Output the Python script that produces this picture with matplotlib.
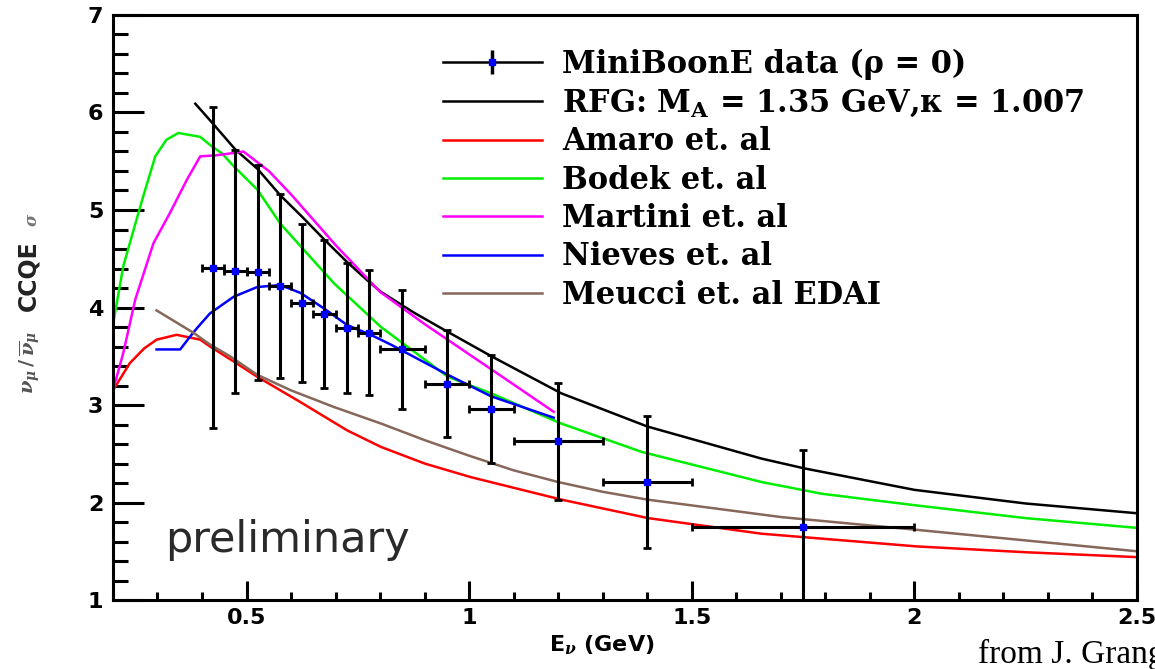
import matplotlib.pyplot as plt
from matplotlib.lines import Line2D
from matplotlib.ticker import MultipleLocator, FormatStrFormatter

plt.rcParams['mathtext.fontset'] = 'custom'
plt.rcParams['mathtext.rm'] = 'DejaVu Serif:bold'
plt.rcParams['mathtext.it'] = 'DejaVu Serif:bold:italic'
plt.rcParams['mathtext.bf'] = 'DejaVu Serif:bold'

# MiniBooNE nu / nubar CCQE ratio
e_nu = [0.425, 0.475, 0.525, 0.575, 0.625, 0.675, 0.725, 0.775, 0.85, 0.95, 1.05, 1.2, 1.4, 1.75]
e_err = [0.025, 0.025, 0.025, 0.025, 0.025, 0.025, 0.025, 0.025, 0.05, 0.05, 0.05, 0.1, 0.1, 0.25]
ratio = [4.41, 4.37, 4.36, 4.22, 4.05, 3.93, 3.79, 3.74, 3.57, 3.22, 2.96, 2.63, 2.21, 1.75]
ratio_err = [1.65, 1.25, 1.10, 0.94, 0.81, 0.76, 0.67, 0.64, 0.61, 0.55, 0.55, 0.60, 0.68, 0.79]

# RFG, M_A = 1.35 GeV
rfg_e = [0.385, 0.418, 0.475, 0.525, 0.576, 0.625, 0.674, 0.725, 0.771, 0.802, 0.875, 0.952, 1.05, 1.207,
         1.4, 1.657, 1.753, 2.0, 2.25, 2.5]
rfg_r = [6.09, 5.92, 5.62, 5.42, 5.15, 4.93, 4.70, 4.47, 4.28, 4.16, 3.95, 3.75, 3.50, 3.12,
         2.78, 2.45, 2.35, 2.13, 1.99, 1.89]

# Amaro et al
amaro_e = [0.2, 0.238, 0.27, 0.298, 0.343, 0.396, 0.418, 0.47, 0.524, 0.621, 0.726, 0.802, 0.9, 1.004,
           1.207, 1.402, 1.657, 2.005, 2.25, 2.5]
amaro_r = [3.15, 3.43, 3.58, 3.67, 3.72, 3.67, 3.60, 3.45, 3.29, 3.03, 2.74, 2.57, 2.40, 2.26,
           2.03, 1.84, 1.68, 1.55, 1.49, 1.44]

# Bodek et al
bodek_e = [0.2, 0.223, 0.246, 0.268, 0.295, 0.32, 0.347, 0.396, 0.42, 0.445, 0.471, 0.524, 0.576, 0.629,
           0.696, 0.802, 0.952, 1.049, 1.207, 1.387, 1.657, 1.792, 2.005, 2.25, 2.5]
bodek_r = [3.82, 4.42, 4.79, 5.14, 5.55, 5.72, 5.79, 5.75, 5.66, 5.58, 5.45, 5.21, 4.86, 4.59,
           4.25, 3.80, 3.29, 3.12, 2.81, 2.52, 2.21, 2.09, 1.97, 1.84, 1.74]

# Martini et al
martini_e = [0.2, 0.223, 0.25, 0.291, 0.328, 0.366, 0.396, 0.43, 0.448, 0.493, 0.55, 0.6, 0.65, 0.7,
             0.75, 0.8, 0.9, 1.0, 1.1, 1.19]
martini_r = [3.15, 3.53, 4.08, 4.66, 4.97, 5.31, 5.55, 5.56, 5.57, 5.60, 5.40, 5.16, 4.90, 4.64,
             4.40, 4.16, 3.83, 3.52, 3.21, 2.93]

# Nieves et al
nieves_e = [0.298, 0.351, 0.373, 0.389, 0.418, 0.471, 0.524, 0.576, 0.621, 0.674, 0.726, 0.779, 0.824,
            0.952, 1.049, 1.19]
nieves_r = [3.57, 3.57, 3.70, 3.79, 3.94, 4.11, 4.21, 4.23, 4.15, 3.99, 3.82, 3.72, 3.62,
            3.31, 3.09, 2.87]

# Meucci et al EDAI
meucci_e = [0.298, 0.381, 0.418, 0.463, 0.524, 0.6, 0.696, 0.802, 0.9, 1.0, 1.1, 1.2, 1.3, 1.4,
            1.702, 2.005, 2.5]
meucci_r = [3.97, 3.74, 3.62, 3.50, 3.31, 3.15, 2.98, 2.81, 2.64, 2.48, 2.33, 2.21, 2.11, 2.03,
            1.85, 1.72, 1.50]

fig = plt.figure(figsize=(11.55, 6.69), dpi=100)
ax = fig.add_axes([0.0978, 0.1031, 0.8866, 0.8745])

ax.errorbar(e_nu, ratio, xerr=e_err, yerr=ratio_err, fmt='s', color='blue', markersize=4,
            ecolor='black', elinewidth=2.2, capsize=3, capthick=2, zorder=5)
l_rfg, = ax.plot(rfg_e, rfg_r, color='black', lw=1.8)
l_amaro, = ax.plot(amaro_e, amaro_r, color='red', lw=1.8)
l_bodek, = ax.plot(bodek_e, bodek_r, color='#00ee00', lw=1.8)
l_martini, = ax.plot(martini_e, martini_r, color='magenta', lw=1.8)
l_nieves, = ax.plot(nieves_e, nieves_r, color='blue', lw=1.8)
l_meucci, = ax.plot(meucci_e, meucci_r, color='#86675a', lw=1.8)

ax.set_xlim(0.2, 2.5)
ax.set_ylim(1, 7)
ax.xaxis.set_major_locator(MultipleLocator(0.5))
ax.xaxis.set_minor_locator(MultipleLocator(0.1))
ax.yaxis.set_major_locator(MultipleLocator(1))
ax.yaxis.set_minor_locator(MultipleLocator(0.2))
ax.xaxis.set_major_formatter(FormatStrFormatter('%g'))
ax.tick_params(axis='both', which='both', direction='in', width=2.2)
ax.tick_params(axis='y', which='major', length=22, pad=7)
ax.tick_params(axis='y', which='minor', length=11)
ax.tick_params(axis='x', which='major', length=14, pad=6)
ax.tick_params(axis='x', which='minor', length=6)
for lab in ax.get_xticklabels() + ax.get_yticklabels():
    lab.set_family('DejaVu Sans')
    lab.set_fontweight('bold')
    lab.set_fontsize(16)
for sp in ax.spines.values():
    sp.set_linewidth(2.2)

# legend entry for the data: horizontal line, vertical error tick, blue point
data_handle = (Line2D([], [], color='black', lw=1.8),
               Line2D([], [], ls='none', marker='|', markersize=17, mew=2.5, color='black'),
               Line2D([], [], ls='none', marker='s', markersize=4, color='blue'))
labels = ['MiniBoonE data (ρ = 0)', r'RFG: M$_\mathrm{A}$ = 1.35 GeV,κ = 1.007', 'Amaro et. al',
          'Bodek et. al', 'Martini et. al', 'Nieves et. al', 'Meucci et. al EDAI']
ax.legend([data_handle, l_rfg, l_amaro, l_bodek, l_martini, l_nieves, l_meucci], labels,
          loc='upper left', bbox_to_anchor=(0.322, 0.942), frameon=False, numpoints=1,
          prop=dict(family='DejaVu Serif', weight='bold', size=22),
          handlelength=3.25, handletextpad=0.67, labelspacing=0.24, borderpad=0, borderaxespad=0)

ax.text(0.051, 0.082, 'preliminary', transform=ax.transAxes, fontsize=31, color='#2a2a2a',
        family='DejaVu Sans')

fig.text(0.521, 1 - 645 / 669, r'E$_\nu$ (GeV)', ha='center', va='center', fontsize=16,
         fontweight='bold', family='DejaVu Sans')
fig.text(30 / 1155, 1 - 362 / 669, r'$\nu_{\mu}\,/\,\overline{\nu}_{\mu}$', rotation=90,
         ha='center', va='center', fontsize=14, color='#555555')
fig.text(28 / 1155, 1 - 276 / 669, 'CCQE', rotation=90, ha='center', va='center', fontsize=17,
         fontweight='bold', family='DejaVu Sans', color='#222222')
fig.text(32 / 1155, 1 - 220 / 669, r'$\sigma$', rotation=90, ha='center', va='center', fontsize=12,
         color='#777777')
fig.text(978 / 1155, 1 - 663 / 669, 'from J. Grange', ha='left', va='baseline', fontsize=24,
         family='Liberation Serif')

fig.savefig('out.png', dpi=100)
